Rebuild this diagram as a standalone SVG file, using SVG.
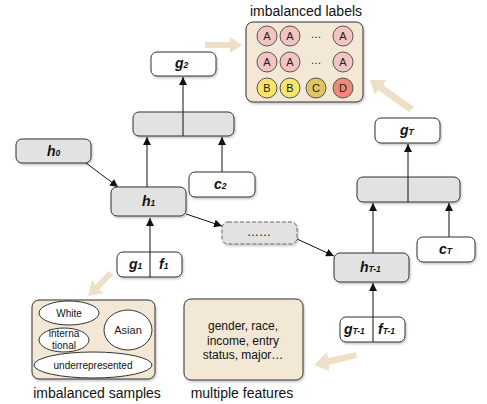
<svg xmlns="http://www.w3.org/2000/svg" width="487" height="404" viewBox="0 0 487 404">
<defs>
<marker id="ah" viewBox="0 0 10 10" refX="10" refY="5" markerWidth="8" markerHeight="8" orient="auto" markerUnits="userSpaceOnUse">
<path d="M0,0 L10,5 L0,10 z" fill="#111"/>
</marker>
<filter id="sh" x="-10%" y="-10%" width="130%" height="140%">
<feDropShadow dx="1" dy="1.5" stdDeviation="1" flood-color="#000" flood-opacity="0.25"/>
</filter>
</defs>
<style>
.wb{fill:#fff;stroke:#333;stroke-width:1;}
.gb{fill:#e2e2e2;stroke:#333;stroke-width:1;}
.bb{fill:#f3e8d6;stroke:#333;stroke-width:1;}
.db{fill:#e2e2e2;stroke:#666;stroke-width:1;stroke-dasharray:4,2;}
.ln{stroke:#111;stroke-width:1;fill:none;}
.ar{stroke:#111;stroke-width:1;fill:none;marker-end:url(#ah);}
.nt{font-family:"Liberation Sans",Arial,sans-serif;font-weight:bold;font-style:italic;font-size:14px;fill:#111;}
.sub{font-size:8.5px;}
.ct{font-family:"Liberation Sans",Arial,sans-serif;font-size:11px;fill:#222;text-anchor:middle;}
.et{font-family:"Liberation Sans",Arial,sans-serif;font-size:10px;fill:#111;text-anchor:middle;}
.ft{font-family:"Liberation Sans",Arial,sans-serif;font-size:12px;fill:#111;text-anchor:middle;}
.tt{font-family:"Liberation Sans",Arial,sans-serif;font-size:14px;fill:#111;text-anchor:middle;}
.ca{fill:#f4c4c0;stroke:#555;stroke-width:1;}
.cb{fill:#f7e46c;stroke:#555;stroke-width:1;}
.cc{fill:#dfc462;stroke:#555;stroke-width:1;}
.cd{fill:#f28878;stroke:#555;stroke-width:1;}
.big{fill:#eedfc7;}
</style>

<!-- big beige arrows -->
<g id="big-arrows">
<polygon class="big" points="205,42 230,42 230,37 242,45 230,53 230,48 205,48"/>
<polygon class="big" points="414,107 383,85 386,80 370,80 375,95 378,90 409,112"/>
<polygon class="big" points="113,275 99,290 104,293 88,296 92,280 95,285 109,271"/>
<polygon class="big" points="356,352 328,358 327,352 314,365 329,371 329,365 357,358"/>
</g>

<g id="labels-group">
<text class="tt" x="306" y="16">imbalanced labels</text>
<rect class="bb" x="246" y="22" width="117" height="80" rx="7" filter="url(#sh)"/>
<circle class="ca" cx="267" cy="36" r="10"/><text class="ct" x="267" y="40">A</text>
<circle class="ca" cx="290" cy="36" r="10"/><text class="ct" x="290" y="40">A</text>
<text class="ct" x="316" y="38">…</text>
<circle class="ca" cx="343" cy="36" r="10"/><text class="ct" x="343" y="40">A</text>
<circle class="ca" cx="267" cy="62" r="10"/><text class="ct" x="267" y="66">A</text>
<circle class="ca" cx="290" cy="62" r="10"/><text class="ct" x="290" y="66">A</text>
<text class="ct" x="316" y="64">…</text>
<circle class="ca" cx="343" cy="62" r="10"/><text class="ct" x="343" y="66">A</text>
<circle class="cb" cx="267" cy="88" r="10"/><text class="ct" x="267" y="92">B</text>
<circle class="cb" cx="290" cy="88" r="10"/><text class="ct" x="290" y="92">B</text>
<circle class="cc" cx="316" cy="88" r="10"/><text class="ct" x="316" y="92">C</text>
<circle class="cd" cx="343" cy="88" r="10"/><text class="ct" x="343" y="92">D</text>
</g>

<g id="connectors">
<line class="ar" x1="183" y1="112" x2="183" y2="77"/>
<line class="ar" x1="147" y1="187" x2="147" y2="137"/>
<line class="ar" x1="222" y1="172" x2="222" y2="137"/>
<line class="ar" x1="86" y1="163" x2="118" y2="187"/>
<line class="ar" x1="150" y1="277" x2="150" y2="218"/>
<line class="ar" x1="186" y1="214" x2="222" y2="226"/>
<line class="ar" x1="297" y1="239" x2="334" y2="256"/>
<line class="ar" x1="408" y1="177" x2="408" y2="144"/>
<line class="ar" x1="373" y1="253" x2="373" y2="203"/>
<line class="ar" x1="449" y1="237" x2="449" y2="203"/>
<line class="ar" x1="373" y1="342" x2="373" y2="283"/>
</g>

<g id="g2"><rect class="wb" x="151" y="52" width="65" height="24" rx="6" filter="url(#sh)"/>
<text class="nt" x="175" y="68">g<tspan class="sub">2</tspan></text></g>

<g id="comb2"><rect class="gb" x="133" y="112" width="101" height="24" rx="6" filter="url(#sh)"/>
<line class="ln" x1="183" y1="112" x2="183" y2="136"/></g>

<g id="h0"><rect class="gb" x="16" y="139" width="75" height="24" rx="6" filter="url(#sh)"/>
<text class="nt" x="47" y="156">h<tspan class="sub">0</tspan></text></g>

<g id="c2"><rect class="wb" x="189" y="172" width="66" height="25" rx="6" filter="url(#sh)"/>
<text class="nt" x="214" y="189">c<tspan class="sub">2</tspan></text></g>

<g id="h1"><rect class="gb" x="111" y="187" width="75" height="29" rx="6" filter="url(#sh)"/>
<text class="nt" x="142" y="206">h<tspan class="sub">1</tspan></text></g>

<g id="g1f1"><rect class="wb" x="117" y="252" width="65" height="25" rx="6" filter="url(#sh)"/>
<line class="ln" x1="150" y1="252" x2="150" y2="277"/>
<text class="nt" x="129" y="269">g<tspan class="sub">1</tspan></text>
<text class="nt" x="159" y="269">f<tspan class="sub">1</tspan></text></g>

<g id="dots"><rect class="db" x="222" y="222" width="75" height="22" rx="6" filter="url(#sh)"/>
<text class="ft" x="259" y="236">……</text></g>

<g id="gT"><rect class="wb" x="375" y="118" width="65" height="25" rx="6" filter="url(#sh)"/>
<text class="nt" x="400" y="135">g<tspan class="sub">T</tspan></text></g>

<g id="combT"><rect class="gb" x="357" y="177" width="103" height="25" rx="6" filter="url(#sh)"/>
<line class="ln" x1="408" y1="177" x2="408" y2="202"/></g>

<g id="cT"><rect class="wb" x="417" y="237" width="58" height="25" rx="6" filter="url(#sh)"/>
<text class="nt" x="439" y="254">c<tspan class="sub">T</tspan></text></g>

<g id="hT1"><rect class="gb" x="334" y="253" width="75" height="29" rx="6" filter="url(#sh)"/>
<text class="nt" x="360" y="272">h<tspan class="sub">T-1</tspan></text></g>

<g id="gT1fT1"><rect class="wb" x="340" y="317" width="65" height="25" rx="6" filter="url(#sh)"/>
<line class="ln" x1="373" y1="317" x2="373" y2="342"/>
<text class="nt" x="344" y="334">g<tspan class="sub">T-1</tspan></text>
<text class="nt" x="378" y="334">f<tspan class="sub">T-1</tspan></text></g>

<g id="samples">
<rect class="bb" x="32" y="300" width="123" height="79" rx="7" filter="url(#sh)"/>
<ellipse class="wb" cx="69" cy="313" rx="30" ry="12"/><text class="et" x="69" y="317">White</text>
<ellipse class="wb" cx="64" cy="340" rx="25" ry="12"/><text class="et" x="64" y="337">interna</text><text class="et" x="64" y="349">tional</text>
<ellipse class="wb" cx="128" cy="330" rx="24" ry="20"/><text class="ct" x="128" y="334">Asian</text>
<ellipse class="wb" cx="93" cy="365" rx="59" ry="13"/><text class="et" x="93" y="369">underrepresented</text>
<text class="tt" x="97" y="398">imbalanced samples</text>
</g>

<g id="features">
<rect class="bb" x="184" y="299" width="119" height="81" rx="7" filter="url(#sh)"/>
<text class="ft" x="243" y="330">gender, race,</text>
<text class="ft" x="243" y="345">income, entry</text>
<text class="ft" x="243" y="359">status, major…</text>
<text class="tt" x="242" y="398">multiple features</text>
</g>
</svg>
